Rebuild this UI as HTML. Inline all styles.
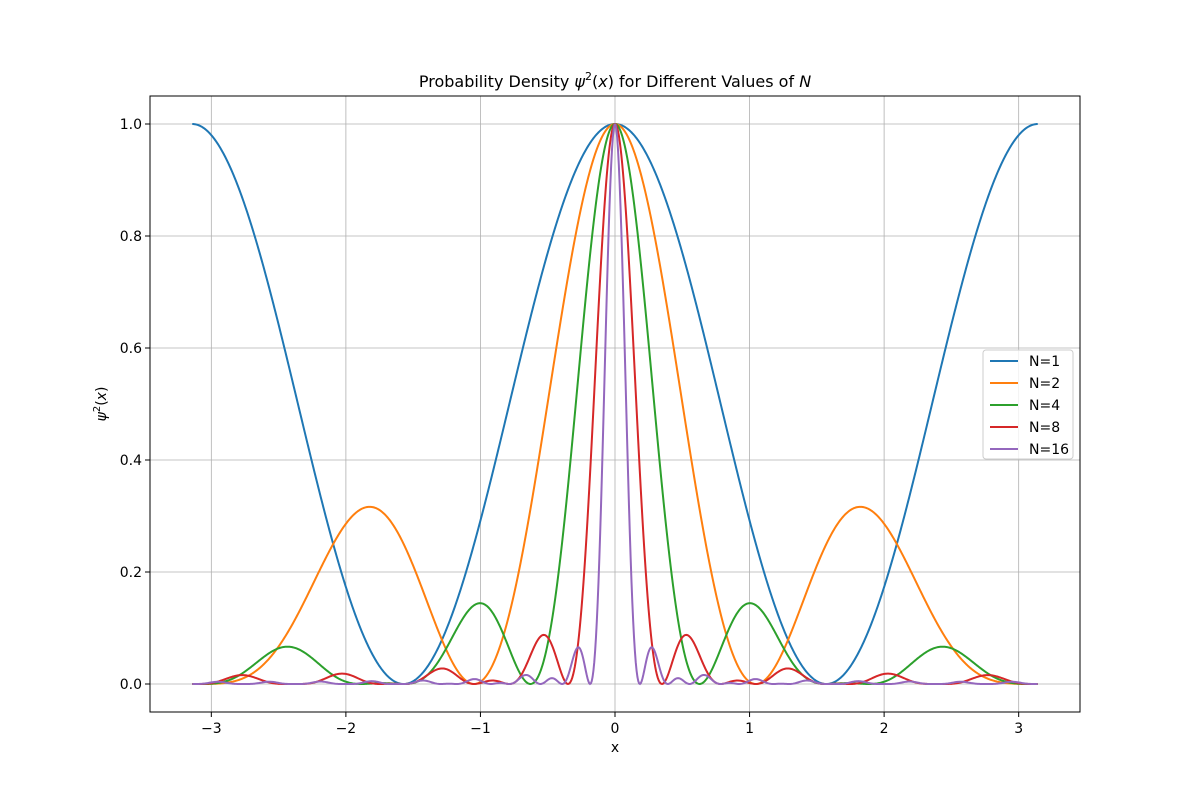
<!DOCTYPE html>
<html><head><meta charset="utf-8"><style>
body{margin:0;background:#fff;}
svg{display:block;font-family:"DejaVu Sans","Liberation Sans",sans-serif;}
</style></head><body>
<svg id="chart" width="1200" height="800" viewBox="0 0 1200 800">
<rect width="1200" height="800" fill="#fff"/>
<g id="grid"></g>
<g id="series"></g>
<rect x="150" y="96" width="930" height="616" fill="none" stroke="#000" stroke-width="1"/>
<g id="ticks"></g>
<text x="615" y="87" text-anchor="middle" font-size="16">Probability Density <tspan font-style="italic">ψ</tspan><tspan font-size="11" dy="-7">2</tspan><tspan dy="7">(</tspan><tspan font-style="italic">x</tspan>) for Different Values of <tspan font-style="italic">N</tspan></text>
<text x="615" y="752" text-anchor="middle" font-size="14">x</text>
<text transform="translate(106,404) rotate(-90)" text-anchor="middle" font-size="14"><tspan font-style="italic">ψ</tspan><tspan font-size="10" dy="-6">2</tspan><tspan dy="6">(</tspan><tspan font-style="italic">x</tspan>)</text>
<g id="legend"></g>
</svg>
<script>
const Ns = [1, 2, 4, 8, 16];
const seriesLabels = ["N=1", "N=2", "N=4", "N=8", "N=16"];
const xTicks = [-3, -2, -1, 0, 1, 2, 3];
const xTickLabels = ["\u22123", "\u22122", "\u22121", "0", "1", "2", "3"];
const yTicks = [0, 0.2, 0.4, 0.6, 0.8, 1.0];
const yTickLabels = ["0.0", "0.2", "0.4", "0.6", "0.8", "1.0"];
const colors = ["#1f77b4", "#ff7f0e", "#2ca02c", "#d62728", "#9467bd"];

const NS = "http://www.w3.org/2000/svg";
const L = 150, R = 1080, T = 96, B = 712;
const xmin = -Math.PI * 1.1, xmax = Math.PI * 1.1, ymin = -0.05, ymax = 1.05;
const sx = v => L + (v - xmin) / (xmax - xmin) * (R - L);
const sy = v => B - (v - ymin) / (ymax - ymin) * (B - T);
function mk(tag, attrs, parent) {
  const e = document.createElementNS(NS, tag);
  for (const k in attrs) e.setAttribute(k, attrs[k]);
  parent.appendChild(e);
  return e;
}
const grid = document.getElementById('grid'), ticks = document.getElementById('ticks');
xTicks.forEach((t, i) => {
  const g = mk('line', {x1: sx(t), x2: sx(t), y1: T, y2: B, stroke: '#b0b0b0', 'stroke-width': 0.8}, grid);
  
  
  const tk = mk('line', {x1: sx(t), x2: sx(t), y1: B, y2: B + 5, stroke: '#000', 'stroke-width': 1}, ticks);
  
  
  const tx = mk('text', {x: sx(t), y: B + 21, 'text-anchor': 'middle', 'font-size': 14}, ticks);
  tx.textContent = xTickLabels[i];
  
  
});
yTicks.forEach((t, i) => {
  const g = mk('line', {x1: L, x2: R, y1: sy(t), y2: sy(t), stroke: '#b0b0b0', 'stroke-width': 0.8}, grid);
  
  
  const tk = mk('line', {x1: L - 5, x2: L, y1: sy(t), y2: sy(t), stroke: '#000', 'stroke-width': 1}, ticks);
  
  
  const tx = mk('text', {x: L - 8, y: sy(t) + 5, 'text-anchor': 'end', 'font-size': 14}, ticks);
  tx.textContent = yTickLabels[i];
  
  
});
const ser = document.getElementById('series');
const M = 1000;
Ns.forEach((N, si) => {
  let d = '';
  for (let i = 0; i < M; i++) {
    const x = -Math.PI + 2 * Math.PI * i / (M - 1);
    let s = 0;
    for (let k = 1; k <= N; k++) s += Math.cos(k * x);
    const y = (s / N) * (s / N);
    d += (i ? 'L' : 'M') + sx(x).toFixed(2) + ' ' + sy(y).toFixed(2);
  }
  const p = mk('path', {d: d, fill: 'none', stroke: colors[si], 'stroke-width': 2}, ser);
  
  
});
const lg = document.getElementById('legend');
const box = mk('rect', {x: 983, y: 350, width: 90, height: 109, rx: 3, fill: '#fff', 'fill-opacity': 0.8, stroke: '#ccc', 'stroke-width': 1}, lg);


seriesLabels.forEach((lab, i) => {
  const y = 361 + i * 22;
  const ln = mk('line', {x1: 990, x2: 1018, y1: y, y2: y, stroke: colors[i], 'stroke-width': 2}, lg);
  
  
  const t = mk('text', {x: 1029, y: y + 5, 'font-size': 14}, lg);
  t.textContent = lab;
  
  
});
</script>
</body></html>
